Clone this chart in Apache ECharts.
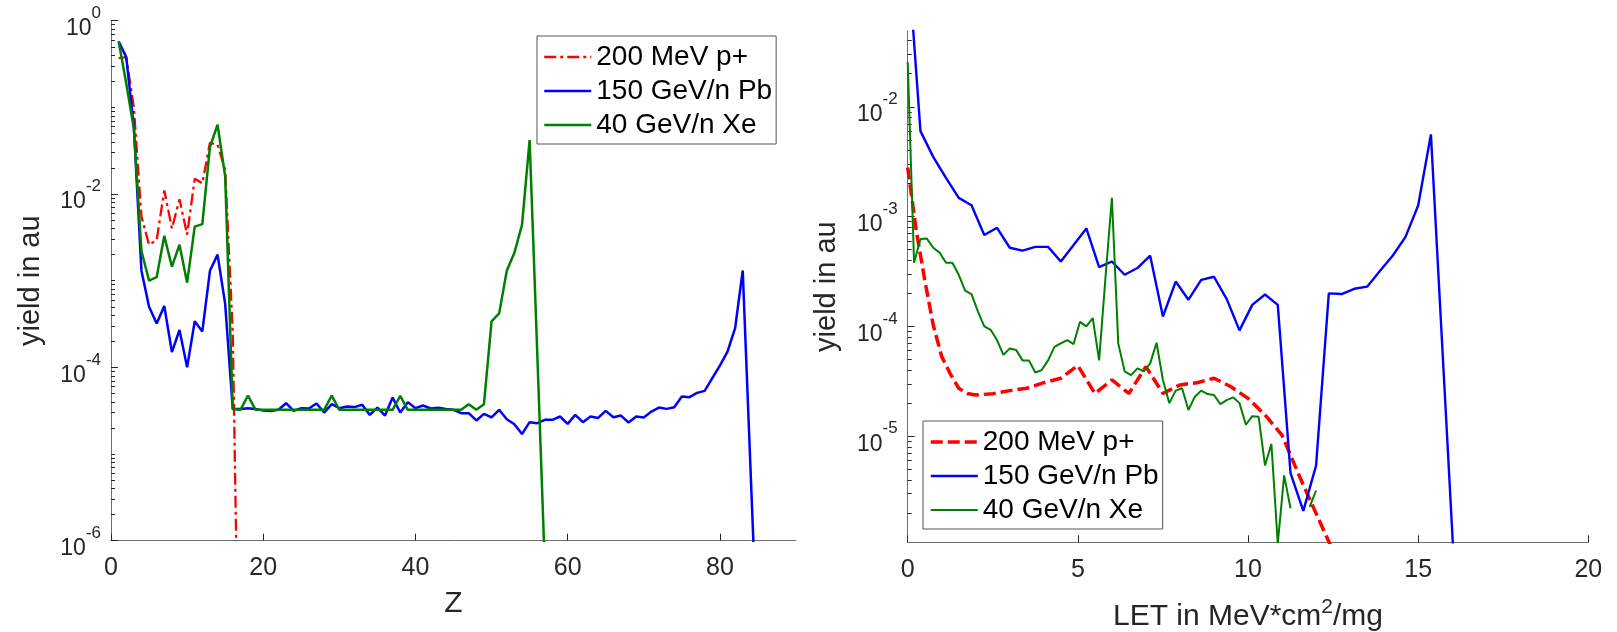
<!DOCTYPE html>
<html>
<head>
<meta charset="utf-8">
<title>Fragment yield vs Z and LET</title>
<script src="https://cdn.jsdelivr.net/npm/echarts@6/dist/echarts.min.js"></script>
<style>
  html, body { margin: 0; padding: 0; background: #ffffff; }
  #chart { width: 1617px; height: 632px; }
</style>
</head>
<body>
<div id="chart"></div>
<script>
// ---- beam names (legend order) ----
const beamNames = ['200 MeV p+', '150 GeV/n Pb', '40 GeV/n Xe'];

// ---- left panel: yield per fragment charge Z (index i -> Z = i + 1) ----
const protonByZ = [0.37, 0.38, 0.1, 5.5e-3, 2.6e-3, 2.95e-3, 0.011, 4.0e-3, 8.7e-3, 3.4e-3,
  0.015, 0.0133, 0.039, 0.037, 0.019, 2.5e-4, 1e-9];

const leadByZ = [0.58, 0.38, 0.06, 1.3e-3, 5.0e-4, 3.2e-4, 5.1e-4, 1.5e-4, 2.7e-4, 1.0e-4,
  3.4e-4, 2.6e-4, 1.3e-3, 2.0e-3, 5.4e-4, 3.3e-5, 3.3e-5, 3.38e-5, 3.3e-5, 3.18e-5,
  3.13e-5, 3.24e-5, 3.86e-5, 3.15e-5, 3.38e-5, 3.35e-5, 3.83e-5, 3.01e-5, 3.76e-5, 3.38e-5,
  3.53e-5, 3.48e-5, 3.70e-5, 2.83e-5, 3.44e-5, 2.78e-5, 4.49e-5, 3.01e-5, 3.97e-5, 3.38e-5,
  3.63e-5, 3.35e-5, 3.41e-5, 3.32e-5, 3.24e-5, 2.96e-5, 2.96e-5, 2.44e-5, 2.91e-5, 2.64e-5,
  3.24e-5, 2.52e-5, 2.21e-5, 1.70e-5, 2.33e-5, 2.27e-5, 2.48e-5, 2.48e-5, 2.71e-5, 2.23e-5,
  2.83e-5, 2.33e-5, 2.71e-5, 2.61e-5, 3.15e-5, 2.66e-5, 2.78e-5, 2.31e-5, 2.71e-5, 2.64e-5,
  3.09e-5, 3.44e-5, 3.32e-5, 3.47e-5, 4.61e-5, 4.53e-5, 5.08e-5, 5.36e-5, 7.5e-5, 1.05e-4,
  1.52e-4, 2.83e-4, 1.31e-3, 7.6e-6, 4.5e-8];

const xenonByZ = [0.58, 0.19, 0.057, 2.2e-3, 1.0e-3, 1.1e-3, 3.3e-3, 1.45e-3, 2.6e-3, 9.5e-4,
  4.2e-3, 4.5e-3, 0.035, 0.063, 0.016, 3.3e-5, 3.24e-5, 4.73e-5, 3.24e-5, 3.24e-5,
  3.24e-5, 3.24e-5, 3.24e-5, 3.24e-5, 3.24e-5, 3.24e-5, 3.24e-5, 3.24e-5, 4.73e-5, 3.24e-5,
  3.24e-5, 3.24e-5, 3.24e-5, 3.24e-5, 3.24e-5, 3.24e-5, 3.24e-5, 4.7e-5, 3.24e-5, 3.24e-5,
  3.24e-5, 3.24e-5, 3.24e-5, 3.24e-5, 3.24e-5, 3.24e-5, 3.76e-5, 3.24e-5, 3.76e-5, 3.4e-4,
  4.2e-4, 1.3e-3, 2.1e-3, 4.4e-3, 0.042, 1.5e-4, 5e-7];

// ---- right panel: yield per LET bin (MeV*cm2/mg) ----
const protonLET = [0, 0.25, 0.5, 0.75, 1.0, 1.25, 1.5, 1.75, 2.0, 2.5,
  3.0, 3.5, 4.0, 4.5, 5.0, 5.5, 6.0, 6.5, 7.0, 7.5,
  8.0, 8.5, 9.0, 9.5, 10.0, 10.5, 11.0, 11.5, 12.0, 12.5];
const protonByLET = [2.8e-3, 7.5e-4, 2.65e-4, 1.03e-4, 5.3e-5, 3.7e-5, 2.73e-5, 2.45e-5, 2.37e-5, 2.44e-5,
  2.6e-5, 2.73e-5, 3.07e-5, 3.37e-5, 4.4e-5, 2.45e-5, 3.25e-5, 2.45e-5, 4.3e-5, 2.45e-5,
  2.93e-5, 3.07e-5, 3.37e-5, 2.82e-5, 2.21e-5, 1.56e-5, 1.02e-5, 4.4e-6, 1.98e-6, 9e-7];

const leadLET = [0, 0.375, 0.75, 1.125, 1.5, 1.875, 2.25, 2.625, 3.0, 3.375,
  3.75, 4.125, 4.5, 4.875, 5.25, 5.625, 6.0, 6.375, 6.75, 7.125,
  7.5, 7.875, 8.25, 8.625, 9.0, 9.375, 9.75, 10.125, 10.5, 10.875,
  11.25, 11.625, 12.0, 12.375, 12.75, 13.125, 13.5, 13.875, 14.25, 14.625,
  15.0, 15.375, 15.75, 16.125];
const leadByLET = [0.25, 6.0e-3, 3.5e-3, 2.25e-3, 1.48e-3, 1.27e-3, 6.8e-4, 7.9e-4, 5.2e-4, 4.9e-4,
  5.3e-4, 5.3e-4, 3.9e-4, 5.5e-4, 7.8e-4, 3.47e-4, 3.9e-4, 2.95e-4, 3.4e-4, 4.4e-4,
  1.23e-4, 2.56e-4, 1.75e-4, 2.65e-4, 2.83e-4, 1.77e-4, 9.2e-5, 1.57e-4, 1.95e-4, 1.57e-4,
  4.6e-6, 2.09e-6, 5.4e-6, 2.0e-4, 1.97e-4, 2.2e-4, 2.3e-4, 3.2e-4, 4.4e-4, 6.5e-4,
  1.26e-3, 5.6e-3, 3.8e-5, 2.6e-7];

const xenonLET = [0, 0.1875, 0.375, 0.5625, 0.75, 0.9375, 1.125, 1.3125, 1.5, 1.6875,
  1.875, 2.0625, 2.25, 2.4375, 2.625, 2.8125, 3.0, 3.1875, 3.375, 3.5625,
  3.75, 3.9375, 4.125, 4.3125, 4.5, 4.6875, 4.875, 5.0625, 5.25, 5.4375,
  5.625, 5.8125, 6.0, 6.1875, 6.375, 6.5625, 6.75, 6.9375, 7.125, 7.3125,
  7.5, 7.6875, 7.875, 8.0625, 8.25, 8.4375, 8.625, 8.8125, 9.0, 9.1875,
  9.375, 9.5625, 9.75, 9.9375, 10.125, 10.3125, 10.5, 10.6875, 10.875, 11.0625,
  11.25, 11.4375, 11.625, 11.8125, 12.0];
const xenonByLET = [0.0255, 3.8e-4, 6.25e-4, 6.3e-4, 5.2e-4, 4.7e-4, 3.8e-4, 3.8e-4, 2.95e-4, 2.12e-4,
  1.97e-4, 1.37e-4, 1.0e-4, 9.3e-5, 7.5e-5, 5.5e-5, 6.3e-5, 6.1e-5, 4.9e-5, 4.9e-5,
  3.8e-5, 4.0e-5, 4.9e-5, 6.5e-5, 7.0e-5, 7.5e-5, 6.9e-5, 1.1e-4, 1.0e-4, 1.19e-4,
  4.9e-5, 2.8e-4, 1.48e-3, 7.0e-5, 3.9e-5, 3.6e-5, 4.15e-5, 3.9e-5, 4.6e-5, 7.1e-5,
  3.25e-5, 2.0e-5, 2.6e-5, 2.73e-5, 1.73e-5, 2.29e-5, 2.6e-5, 2.42e-5, 2.37e-5, 1.96e-5,
  2.13e-5, 2.26e-5, 2.0e-5, 1.27e-5, 1.52e-5, 1.5e-5, 5.4e-6, 8.5e-6, 1.05e-6, 4.4e-6,
  2.2e-6, null, null, 2.27e-6, 3.2e-6];

// ---- axis tick values ----
const zTicks = [0, 20, 40, 60, 80];
const letTicks = [0, 5, 10, 15, 20];
const leftMajorY = [1e-6, 1e-4, 1e-2, 1];
const rightMajorY = [1e-5, 1e-4, 1e-3, 1e-2];

const FONT = '"Liberation Sans", Arial, Helvetica, sans-serif';
const INK = '#262626';
const AXIS_LINE = '#6e6e6e';
const RED = '#ff0000', BLUE = '#0000ff', GREEN = '#008000';

// log-decade minor ticks (1..9 x 10^k) inside [lo, hi], majors removed
function minorLogTicks(lo, hi, majors) {
  const out = [];
  for (let k = Math.floor(Math.log10(lo)); k <= Math.ceil(Math.log10(hi)); k++) {
    for (let m = 1; m <= 9; m++) {
      const v = m * Math.pow(10, k);
      if (v < lo * 0.9999 || v > hi * 1.0001) continue;
      if (majors.some(t => Math.abs(t - v) / t < 1e-9)) continue;
      out.push(v);
    }
  }
  return out;
}

const zNumbers = leadByZ.map((_, i) => i + 1);
const pairs = (xs, ys) => ys.map((y, i) => [xs[i], y]);

// "10" with a raised exponent; rich tokens sit on a common bottom line,
// so the exponent is lifted with bottom padding
function powerLabel(v) {
  const e = Math.round(Math.log10(v));
  return '{b|10}{s|' + e + '}';
}
const powerRich = {
  b: { fontFamily: FONT, fontSize: 23, lineHeight: 23, color: INK, padding: [16, 0, 0, 0] },
  s: { fontFamily: FONT, fontSize: 17, lineHeight: 17, color: INK, padding: [0, 0, 15, 0] }
};

function xAxisDef(gridIndex, max, ticks, name, gap) {
  return {
    gridIndex, type: 'value', min: 0, max,
    axisLine: { show: true, lineStyle: { color: AXIS_LINE, width: 1 } },
    axisTick: { show: true, inside: true, length: 7, customValues: ticks, lineStyle: { color: INK, width: 1 } },
    axisLabel: { customValues: ticks, fontFamily: FONT, fontSize: 25, color: INK, margin: 15 },
    splitLine: { show: false },
    name, nameLocation: 'middle', nameGap: gap,
    nameTextStyle: {
      fontFamily: FONT, fontSize: 30, color: INK,
      rich: {
        n: { fontFamily: FONT, fontSize: 30, lineHeight: 30, color: INK },
        p: { fontFamily: FONT, fontSize: 21, lineHeight: 21, color: INK, padding: [0, 0, 18, 0] }
      }
    }
  };
}

function yMajorDef(gridIndex, min, max, majors) {
  return {
    gridIndex, type: 'log', logBase: 10, min, max, position: 'left',
    axisLine: { show: true, lineStyle: { color: AXIS_LINE, width: 1 } },
    axisTick: { show: true, inside: true, length: 7, customValues: majors, lineStyle: { color: INK, width: 1 } },
    axisLabel: { customValues: majors, formatter: powerLabel, rich: powerRich, margin: 10 },
    splitLine: { show: false },
    name: 'yield in au', nameLocation: 'middle', nameGap: 66, nameRotate: 90,
    nameTextStyle: { fontFamily: FONT, fontSize: 29, color: INK }
  };
}

function yMinorDef(gridIndex, min, max, majors) {
  return {
    gridIndex, type: 'log', logBase: 10, min, max, position: 'left',
    axisLine: { show: false },
    axisTick: { show: true, inside: true, length: 4, customValues: minorLogTicks(min, max, majors), lineStyle: { color: INK, width: 1 } },
    axisLabel: { show: false },
    splitLine: { show: false }
  };
}

function legendDef(left, top, overrides) {
  return {
    orient: 'vertical', left, top,
    itemWidth: 47, itemHeight: 14, itemGap: 6, itemTextGap: 5,
    padding: [7, 4, 5, 6],
    borderColor: '#555555', borderWidth: 1, borderRadius: 0,
    backgroundColor: '#ffffff',
    selectedMode: false,
    textStyle: { fontFamily: FONT, fontSize: 28, color: '#000000' },
    data: beamNames.map((name, i) => Object.assign({ name, itemStyle: { opacity: 0 } }, overrides[i] || {}))
  };
}

const lineSeries = (name, data, xi, yi, color, width, type) => ({
  name, type: 'line', data, xAxisIndex: xi, yAxisIndex: yi,
  symbol: 'none', showSymbol: false, connectNulls: false, clip: true,
  lineStyle: { color, width, type: type || 'solid' },
  itemStyle: { color },
  emphasis: { disabled: true }
});

const LEFT_MIN = 1e-6, LEFT_MAX = 1;
const RIGHT_MIN = 1.08e-6, RIGHT_MAX = 0.049;

const option = {
  animation: false,
  backgroundColor: '#ffffff',
  textStyle: { fontFamily: FONT },
  grid: [
    { left: 111, top: 20.7, width: 685, height: 520, outerBoundsMode: 'none', containLabel: false },
    { left: 907.7, top: 31, width: 680.6, height: 511.3, outerBoundsMode: 'none', containLabel: false }
  ],
  xAxis: [
    xAxisDef(0, 90, zTicks, 'Z', 48),
    xAxisDef(1, 20, letTicks, '{n|LET in MeV*cm}{p|2}{n|/mg}', 59)
  ],
  yAxis: [
    yMajorDef(0, LEFT_MIN, LEFT_MAX, leftMajorY),
    yMinorDef(0, LEFT_MIN, LEFT_MAX, leftMajorY),
    yMajorDef(1, RIGHT_MIN, RIGHT_MAX, rightMajorY),
    yMinorDef(1, RIGHT_MIN, RIGHT_MAX, rightMajorY)
  ],
  legend: [
    legendDef(537, 36, [
      { lineStyle: { type: [12, 4, 3, 4], width: 2.3 } }, { lineStyle: { width: 2.5 } }, { lineStyle: { width: 2.5 } }
    ]),
    legendDef(923, 421, [
      { lineStyle: { type: [12, 5], width: 3.5 } }, { lineStyle: { width: 2.4 } }, { lineStyle: { width: 2 } }
    ])
  ],
  series: [
    lineSeries(beamNames[0], pairs(zNumbers, protonByZ), 0, 0, RED, 2.3, [12, 4, 3, 4]),
    lineSeries(beamNames[1], pairs(zNumbers, leadByZ), 0, 0, BLUE, 2.5),
    lineSeries(beamNames[2], pairs(zNumbers, xenonByZ), 0, 0, GREEN, 2.5),
    lineSeries(beamNames[0], pairs(protonLET, protonByLET), 1, 2, RED, 3.5, [12, 5]),
    lineSeries(beamNames[1], pairs(leadLET, leadByLET), 1, 2, BLUE, 2.4),
    lineSeries(beamNames[2], pairs(xenonLET, xenonByLET), 1, 2, GREEN, 2)
  ]
};

const chart = echarts.init(document.getElementById('chart'), null, { renderer: 'canvas' });
chart.setOption(option);
</script>
</body>
</html>
